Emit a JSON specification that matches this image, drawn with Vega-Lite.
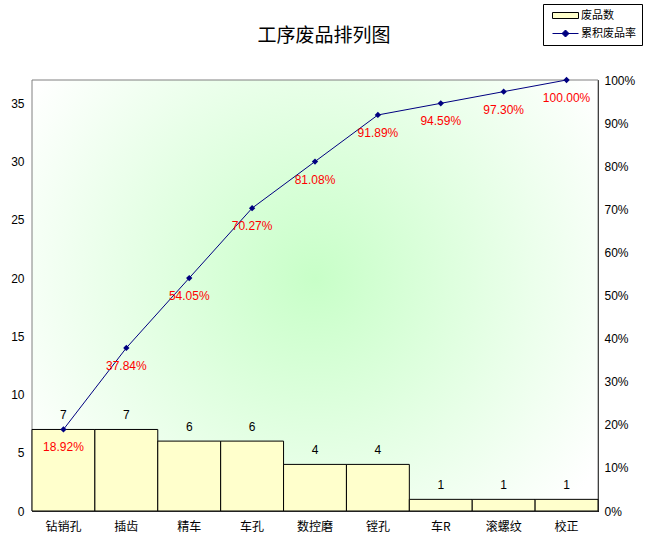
{
  "$schema": "https://vega.github.io/schema/vega-lite/v6.json",
  "width": 566,
  "height": 431,
  "autosize": "none",
  "padding": {"left": 32, "top": 80, "right": 51, "bottom": 41},
  "background": "white",
  "title": {
    "text": "工序废品排列图",
    "font": "Noto Sans CJK SC",
    "fontSize": 19,
    "fontWeight": "normal",
    "color": "black",
    "offset": -42,
    "dx": 9
  },
  "data": {
    "values": [
      {"process": "钻销孔", "count": 7, "cum": 0.1892},
      {"process": "插齿", "count": 7, "cum": 0.3784},
      {"process": "精车", "count": 6, "cum": 0.5405},
      {"process": "车孔", "count": 6, "cum": 0.7027},
      {"process": "数控磨", "count": 4, "cum": 0.8108},
      {"process": "镗孔", "count": 4, "cum": 0.9189},
      {"process": "车R", "count": 1, "cum": 0.9459},
      {"process": "滚螺纹", "count": 1, "cum": 0.973},
      {"process": "校正", "count": 1, "cum": 1.0}
    ]
  },
  "layer": [
    {
      "data": {"values": [{"panel": "plot"}]},
      "mark": {
        "type": "rect",
        "stroke": "#808080",
        "strokeWidth": 1,
        "fill": {
          "gradient": "radial",
          "x1": 0.5, "y1": 0.47, "r1": 0,
          "x2": 0.5, "y2": 0.47, "r2": 0.6,
          "stops": [
            {"offset": 0, "color": "#C8FFC8"},
            {"offset": 1, "color": "#FFFFFF"}
          ]
        }
      }
    },
    {
      "encoding": {
        "x": {
          "field": "process",
          "type": "nominal",
          "sort": null,
          "scale": {"paddingInner": 0, "paddingOuter": 0},
          "axis": {
            "title": null,
            "labelAngle": 0,
            "ticks": false,
            "domainColor": "black",
            "labelFont": "Noto Sans CJK SC",
            "labelFontSize": 12,
            "labelColor": "black",
            "labelPadding": 10
          }
        },
        "y": {
          "field": "count",
          "type": "quantitative",
          "scale": {"domain": [0, 37], "nice": false},
          "axis": {
            "title": null,
            "values": [0, 5, 10, 15, 20, 25, 30, 35],
            "grid": false,
            "domainColor": "black",
            "tickColor": "black",
            "tickSize": -4,
            "labelPadding": 12,
            "labelFont": "Liberation Sans",
            "labelFontSize": 12,
            "labelColor": "black"
          }
        }
      },
      "layer": [
        {"mark": {"type": "bar", "fill": "#FFFFCC", "stroke": "black", "strokeWidth": 1}},
        {
          "mark": {"type": "text", "baseline": "middle", "dy": -14, "font": "Liberation Sans", "fontSize": 12, "color": "black"},
          "encoding": {"text": {"field": "count", "type": "quantitative"}}
        }
      ]
    },
    {
      "encoding": {
        "x": {"field": "process", "type": "nominal", "sort": null},
        "y": {
          "field": "cum",
          "type": "quantitative",
          "scale": {"domain": [0, 1], "nice": false},
          "axis": {
            "orient": "right",
            "title": null,
            "format": ".0%",
            "values": [0, 0.1, 0.2, 0.3, 0.4, 0.5, 0.6, 0.7, 0.8, 0.9, 1],
            "grid": false,
            "domainColor": "black",
            "tickColor": "black",
            "tickSize": -4,
            "labelPadding": 10,
            "labelFont": "Liberation Sans",
            "labelFontSize": 12,
            "labelColor": "black"
          }
        }
      },
      "layer": [
        {"mark": {"type": "line", "color": "#000080", "strokeWidth": 1}},
        {"mark": {"type": "point", "shape": "diamond", "filled": true, "color": "#000080", "size": 40, "opacity": 1}},
        {
          "mark": {"type": "text", "baseline": "middle", "dy": 18, "font": "Liberation Sans", "fontSize": 12, "color": "#FF0000"},
          "encoding": {"text": {"field": "cum", "type": "quantitative", "format": ".2%"}}
        }
      ]
    },
    {
      "data": {"values": [{"series": "废品数"}, {"series": "累积废品率"}]},
      "mark": {"type": "point", "filled": true, "opacity": 0, "strokeWidth": 1},
      "encoding": {
        "shape": {
          "field": "series",
          "type": "nominal",
          "scale": {
            "domain": ["废品数", "累积废品率"],
            "range": ["M-0.4,-0.6H4.8V0.6H-0.4Z", "M-0.4,0H4.8M2.2,-0.7L2.9,0L2.2,0.7L1.5,0Z"]
          },
          "legend": {"title": null}
        },
        "fill": {
          "field": "series",
          "type": "nominal",
          "scale": {"domain": ["废品数", "累积废品率"], "range": ["#FFFFCC", "#000080"]},
          "legend": {"title": null}
        },
        "stroke": {
          "field": "series",
          "type": "nominal",
          "scale": {"domain": ["废品数", "累积废品率"], "range": ["#000000", "#000080"]},
          "legend": {"title": null}
        }
      }
    }
  ],
  "resolve": {"scale": {"y": "independent"}},
  "config": {
    "view": {"stroke": "#808080"},
    "legend": {
      "orient": "none",
      "legendX": 511,
      "legendY": -76,
      "strokeColor": "black",
      "fillColor": "white",
      "padding": 6,
      "symbolSize": 100,
      "symbolOpacity": 1,
      "symbolStrokeWidth": 1,
      "labelOffset": 21,
      "rowPadding": 6,
      "labelFont": "Noto Sans CJK SC",
      "labelFontSize": 11,
      "labelColor": "black"
    }
  }
}
